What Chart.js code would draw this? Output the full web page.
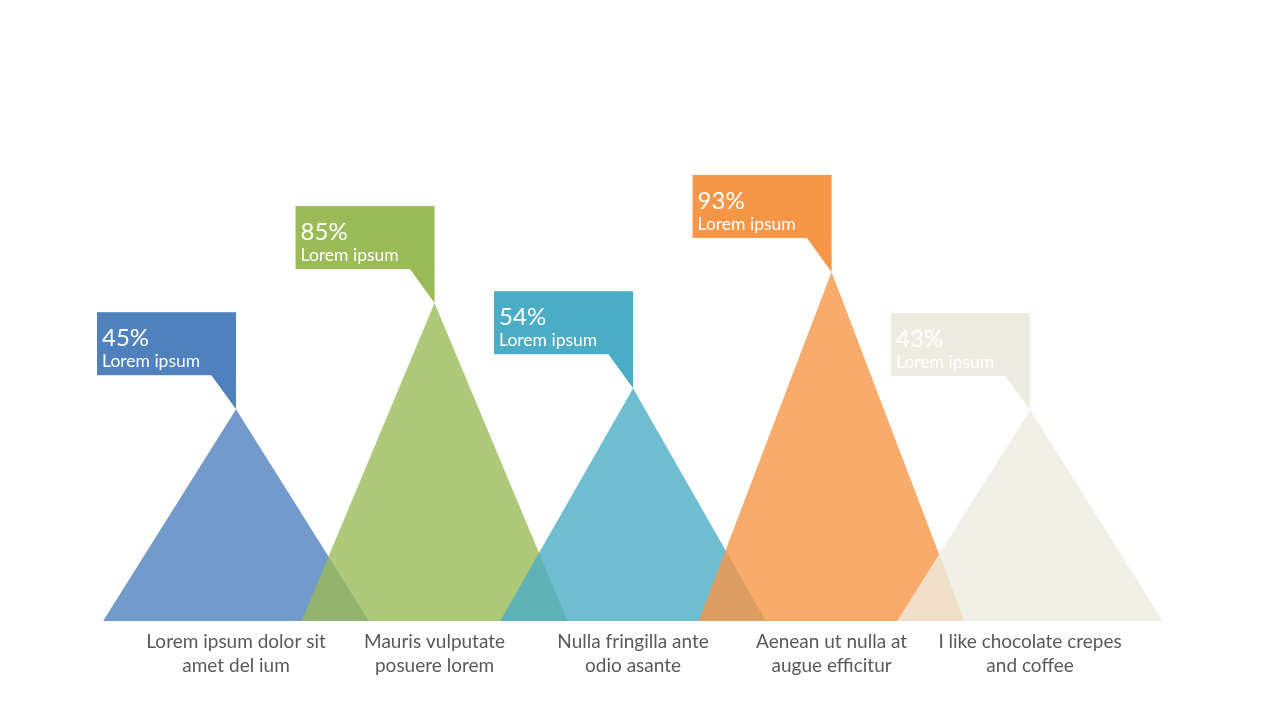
<!DOCTYPE html>
<html>
<head>
<meta charset="utf-8">
<script src="https://cdn.jsdelivr.net/npm/chart.js@4"></script>
<style>
    html, body { margin: 0; padding: 0; background: #ffffff; }
    #peaks { display: block; }
</style>
</head>
<body>
<canvas id="peaks" width="1280" height="720"></canvas>
<script>

// ======================================
// Data
// ======================================

const categories = [
    ["Lorem ipsum dolor sit", "amet del ium"],
    ["Mauris vulputate", "posuere lorem"],
    ["Nulla fringilla ante", "odio asante"],
    ["Aenean ut nulla at", "augue efficitur"],
    ["I like chocolate crepes", "and coffee"]
];

const percentValues = [45, 85, 54, 93, 43];

const calloutText = ["Lorem ipsum", "Lorem ipsum", "Lorem ipsum", "Lorem ipsum", "Lorem ipsum"];

// peak height of each mountain
const peakHeights = [56.5, 84.8, 62.1, 93.1, 56.3];

// ======================================
// Colors
// ======================================

const colors = ["#4f81bd", "#9bbb59", "#4bacc6", "#f79646", "#eeece1"];

const textColor = "#595959";

function fade(hex, a) {
    const n = parseInt(hex.slice(1), 16);
    return `rgba(${n >> 16},${(n >> 8) & 255},${n & 255},${a})`;
}

Chart.defaults.font.family = "Lato";

// ======================================
// Mountains
// ======================================

const halfBase = 0.67;

const datasets = categories.map((c, i) => ({
    data: [
        { x: i - halfBase, y: 0 },
        { x: i, y: peakHeights[i] },
        { x: i + halfBase, y: 0 }
    ],
    backgroundColor: fade(colors[i], 0.8),
    borderWidth: 0,
    pointRadius: 0,
    fill: "origin",
    tension: 0,
    order: categories.length - i
}));

// ======================================
// Callout boxes
// ======================================

const callouts = {
    id: "callouts",
    afterDatasetsDraw(chart) {
        const { ctx, scales } = chart;
        const boxW = 139, boxH = 63, tail = 34, tailW = 25;

        ctx.save();
        percentValues.forEach((v, i) => {
            const px = scales.x.getPixelForValue(i);
            const py = scales.y.getPixelForValue(peakHeights[i]);
            const bottom = py - tail;
            const left = px - boxW;

            ctx.fillStyle = colors[i];
            ctx.fillRect(left, bottom - boxH, boxW, boxH);

            ctx.beginPath();
            ctx.moveTo(px - tailW, bottom - 0.5);
            ctx.lineTo(px, bottom - 0.5);
            ctx.lineTo(px, py);
            ctx.closePath();
            ctx.fill();

            ctx.fillStyle = "#ffffff";
            ctx.textAlign = "left";
            ctx.textBaseline = "alphabetic";
            ctx.font = "24px Lato";
            ctx.fillText(v + "%", left + 5, bottom - boxH + 34);
            ctx.font = "17.5px Lato";
            ctx.fillText(calloutText[i], left + 5, bottom - boxH + 55);
        });
        ctx.restore();
    }
};

// ======================================
// Chart
// ======================================

new Chart(document.getElementById("peaks"), {

    type: "line",

    data: { datasets },

    plugins: [callouts],

    options: {
        responsive: false,
        animation: false,
        layout: {
            padding: { left: 0, right: 0, top: 0, bottom: 33 }
        },
        plugins: {
            legend: { display: false },
            tooltip: { enabled: false }
        },
        scales: {
            x: {
                type: "linear",
                min: -1.189,
                max: 5.259,
                grid: { display: false, drawTicks: false },
                border: { display: false },
                afterBuildTicks: (scale) => {
                    scale.ticks = categories.map((c, i) => ({ value: i }));
                },
                ticks: {
                    autoSkip: false,
                    maxRotation: 0,
                    minRotation: 0,
                    padding: 9,
                    color: textColor,
                    font: { size: 19, lineHeight: 1.26 },
                    callback: (v) => categories[v]
                }
            },
            y: {
                display: false,
                min: 0,
                max: 165.6
            }
        }
    }

});

</script>
</body>
</html>
